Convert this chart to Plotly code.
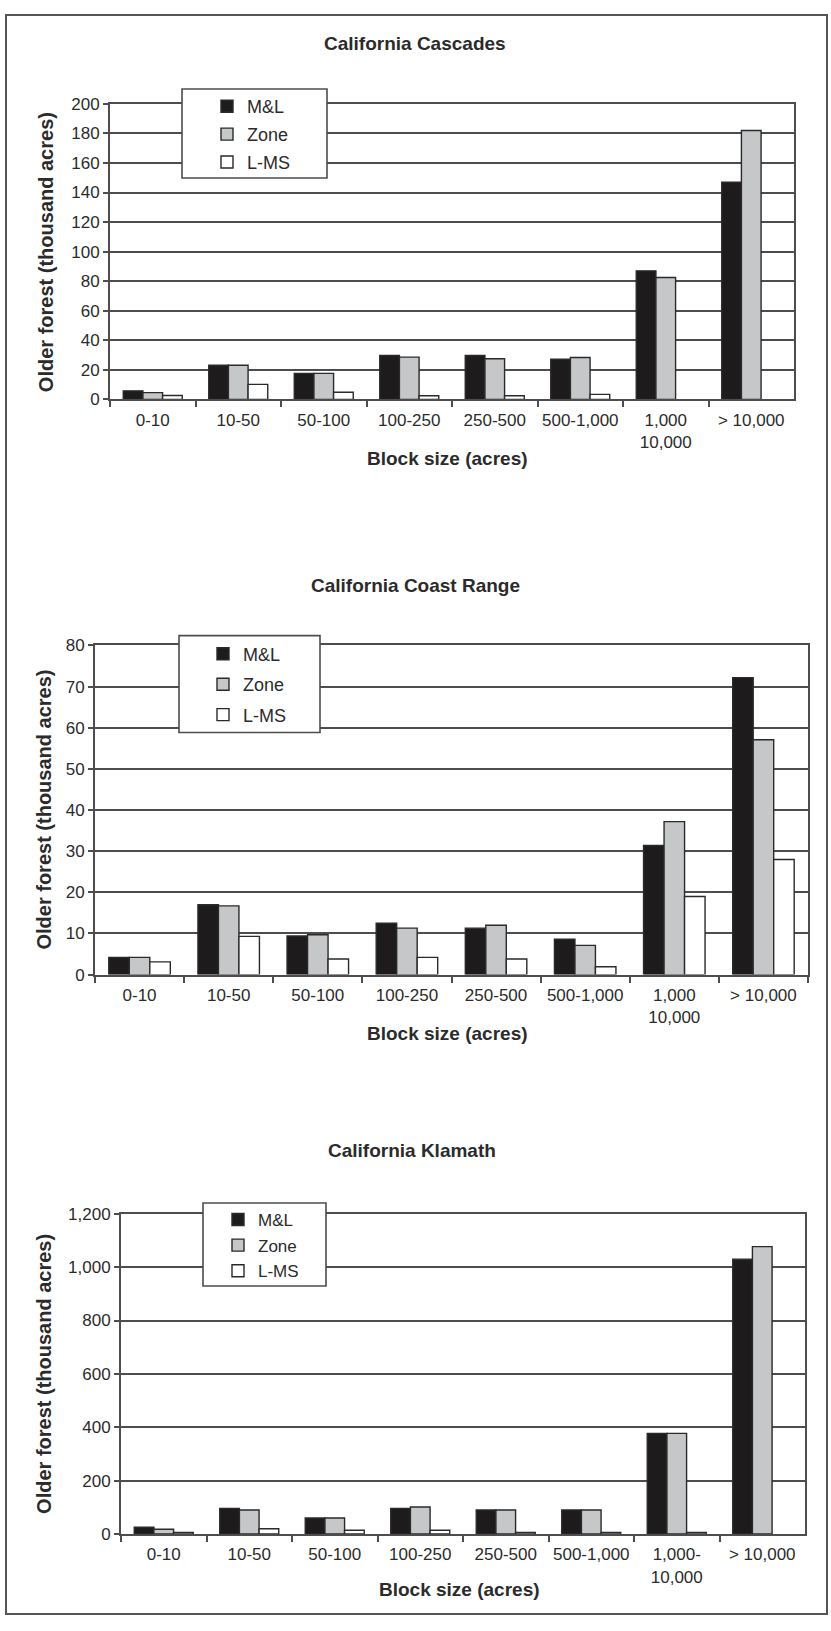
import plotly.graph_objects as go

W, H = 831, 1631

# Block-size classes (acres)
blocks = ["0-10", "10-50", "50-100", "100-250", "250-500", "500-1,000", "1,000-10,000", "> 10,000"]
tick_text_a = ["0-10", "10-50", "50-100", "100-250", "250-500", "500-1,000", "1,000<br>10,000", "> 10,000"]
tick_text_b = ["0-10", "10-50", "50-100", "100-250", "250-500", "500-1,000", "1,000-<br>10,000", "> 10,000"]

series_names = ["M&L", "Zone", "L-MS"]

# Older forest area (thousand acres)
cascades_ml = [5.8, 23.1, 17.6, 29.7, 29.7, 27.2, 87.0, 147.0]
cascades_zone = [4.6, 23.1, 17.6, 28.6, 27.5, 28.4, 82.5, 182.0]
cascades_lms = [2.6, 10.2, 4.8, 2.5, 2.5, 3.4, None, None]

coast_ml = [4.2, 17.0, 9.4, 12.5, 11.3, 8.6, 31.4, 72.2]
coast_zone = [4.2, 16.7, 9.7, 11.3, 12.0, 7.1, 37.2, 57.1]
coast_lms = [3.1, 9.3, 3.8, 4.2, 3.8, 1.9, 19.0, 28.0]

klamath_ml = [26, 96, 60, 96, 90, 90, 377, 1030]
klamath_zone = [18, 90, 60, 101, 90, 90, 377, 1077]
klamath_lms = [6, 20, 14, 14, 6, 6, 6, None]

panel_titles = ["California Cascades", "California Coast Range", "California Klamath"]
y_title = "Older forest (thousand acres)"
x_title = "Block size (acres)"

FONT = "Liberation Sans"
TXT = "#2b2b2b"
LINE = "#4d4d4d"
fills = ["#1e1b1c", "#c5c7c9", "#ffffff"]


def px(x):
    return x / W


def py(y):
    return 1 - y / H


# pixel layout of each panel: plot box, axis range, legend box, text anchors
panels = [
    dict(data=[cascades_ml, cascades_zone, cascades_lms], ticks=tick_text_a,
         box=(110, 794, 96, 395), yr=200, dy=20,
         leg=(182, 327, 81, 171), leg_y=80, leg_x=207, gap=1.5, lfs=18,
         title=(415, 35), ytitle=(46, 246), xtitle=(448, 455)),
    dict(data=[coast_ml, coast_zone, coast_lms], ticks=tick_text_a,
         box=(95, 808, 644, 977), yr=80, dy=10,
         leg=(179, 320, 634, 732), leg_y=634, leg_x=203, gap=4, lfs=18,
         title=(415, 583), ytitle=(44, 810), xtitle=(447, 1037)),
    dict(data=[klamath_ml, klamath_zone, klamath_lms], ticks=tick_text_b,
         box=(121, 805, 1219, 1543), yr=1200, dy=200,
         leg=(203, 326, 1208, 1292), leg_y=1207, leg_x=218, gap=0.5, lfs=17,
         title=(412, 1155), ytitle=(44, 1381), xtitle=(460, 1599)),
]

fig = go.Figure()
annotations = []
shapes = []

for i, p in enumerate(panels):
    n = "" if i == 0 else str(i + 1)
    leg = "legend" + n
    for k, (name, vals) in enumerate(zip(series_names, p["data"])):
        fig.add_trace(go.Bar(
            x=blocks, y=vals, name=name,
            xaxis="x" + n, yaxis="y" + n,
            marker=dict(color=fills[k], line=dict(color="#2a2a2a", width=1.4)),
            legend=leg, legendgroup=f"{i}-{k}",
        ))
    x0, x1, y0, y1 = p["box"]
    fig.update_layout(**{
        "xaxis" + n: dict(
            domain=[px(x0), px(x1)], anchor="y" + n, type="category",
            tickmode="array", tickvals=blocks, ticktext=p["ticks"],
            tickson="boundaries", ticks="outside", ticklen=6, tickwidth=1.5,
            tickangle=0, ticklabelstandoff=4,
            tickcolor=LINE, showline=True, linecolor=LINE, linewidth=2,
            mirror=True, showgrid=False,
            tickfont=dict(family=FONT, size=17, color=TXT),
        ),
        "yaxis" + n: dict(
            domain=[py(y1), py(y0)], anchor="x" + n,
            range=[0, p["yr"]], dtick=p["dy"], tickformat=",d",
            ticks="outside", ticklen=5, tickwidth=1.5, tickcolor=LINE,
            showline=True, linecolor=LINE, linewidth=2, mirror=True,
            showgrid=True, gridcolor=LINE, gridwidth=2, zeroline=False,
            tickfont=dict(family=FONT, size=17, color=TXT),
        ),
        leg: dict(
            x=px(p["leg_x"]), y=py(p["leg_y"]), xanchor="left", yanchor="top",
            bgcolor="rgba(0,0,0,0)", borderwidth=0,
            tracegroupgap=p["gap"],
            font=dict(family=FONT, size=p["lfs"], color=TXT),
        ),
    })
    lx0, lx1, ly0, ly1 = p["leg"]
    shapes.append(dict(type="rect", xref="paper", yref="paper",
                       x0=px(lx0), x1=px(lx1), y0=py(ly1), y1=py(ly0),
                       fillcolor="white", line=dict(color=LINE, width=1.6),
                       layer="above"))
    tx, ty = p["title"]
    annotations.append(dict(text="<b>" + panel_titles[i] + "</b>", x=px(tx), y=py(ty),
                            xref="paper", yref="paper", showarrow=False,
                            xanchor="center", yanchor="middle",
                            font=dict(family=FONT, size=19, color=TXT)))
    ax_, ay_ = p["ytitle"]
    annotations.append(dict(text="<b>" + y_title + "</b>", x=px(ax_), y=py(ay_),
                            xref="paper", yref="paper", showarrow=False,
                            textangle=-90, xanchor="center", yanchor="middle",
                            font=dict(family=FONT, size=20, color=TXT)))
    bx, by = p["xtitle"]
    annotations.append(dict(text="<b>" + x_title + "</b>", x=px(bx), y=py(by),
                            xref="paper", yref="paper", showarrow=False,
                            xanchor="center", yanchor="middle",
                            font=dict(family=FONT, size=19, color=TXT)))

# page frame
shapes.append(dict(type="rect", xref="paper", yref="paper",
                   x0=px(6), x1=px(827), y0=py(1624), y1=py(6),
                   line=dict(color="#555555", width=2), fillcolor="rgba(0,0,0,0)",
                   layer="above"))

fig.update_layout(
    width=W, height=H,
    margin=dict(l=0, r=0, t=0, b=0),
    paper_bgcolor="white", plot_bgcolor="white",
    barmode="group", bargap=0.31, bargroupgap=0,
    showlegend=True,
    annotations=annotations, shapes=shapes,
    font=dict(family=FONT, color=TXT),
)

fig.write_html("out.html")
